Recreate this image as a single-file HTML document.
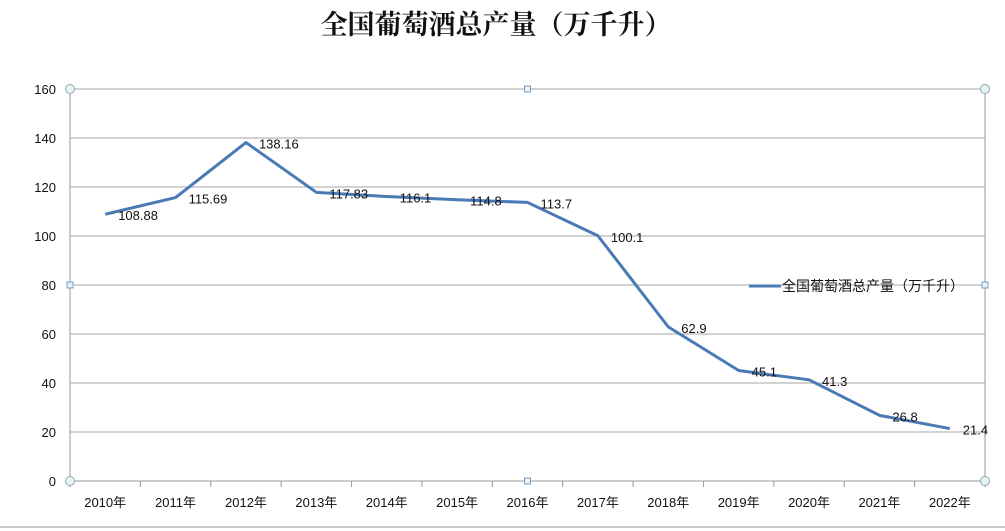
<!DOCTYPE html>
<html><head><meta charset="utf-8"><style>
body{margin:0;background:#fff;}
svg{display:block;font-family:"Liberation Sans","Noto Sans CJK SC",sans-serif;}
</style></head><body>
<svg id="chart" width="1005" height="531" viewBox="0 0 1005 531">
<text x="496" y="34" text-anchor="middle" font-family="'Liberation Serif','Noto Serif CJK SC',serif" font-size="27" font-weight="bold" fill="#111">全国葡萄酒总产量（万千升）</text>
<g id="grid"></g>
<g id="axes"></g>
<g id="series"></g>
<g>
<line x1="749" y1="286" x2="781" y2="286" stroke="#4a7ab5" stroke-width="3"/>
<text x="782" y="291" font-size="14" fill="#111">全国葡萄酒总产量（万千升）</text>
</g>
<line x1="0" y1="527" x2="1005" y2="527" stroke="#ccc" stroke-width="2"/>
</svg>
<script>
const categories=["2010年","2011年","2012年","2013年","2014年","2015年","2016年","2017年","2018年","2019年","2020年","2021年","2022年"];
const values=[108.88,115.69,138.16,117.83,116.1,114.8,113.7,100.1,62.9,45.1,41.3,26.8,21.4];
const valueLabels=["108.88","115.69","138.16","117.83","116.1","114.8","113.7","100.1","62.9","45.1","41.3","26.8","21.4"];
const yTicks=[0,20,40,60,80,100,120,140,160];
const L=70,R=985,T=89,B=481,yMax=160;
const bw=(R-L)/categories.length;
const x=i=>L+bw*(i+0.5);
const y=v=>B-(v/yMax)*(B-T);
const NS="http://www.w3.org/2000/svg";
function mk(tag,attrs,parent,txt){const e=document.createElementNS(NS,tag);for(const k in attrs)e.setAttribute(k,attrs[k]);if(txt!==undefined)e.textContent=txt;parent.appendChild(e);return e;}
const grid=document.getElementById('grid'),axes=document.getElementById('axes'),series=document.getElementById('series');
yTicks.forEach(t=>{
 const g=mk('line',{x1:L,x2:R,y1:y(t),y2:y(t),stroke:t===0?'#999':'#a6a6a6','stroke-width':1},grid);
 
 
 const lb=mk('text',{x:L-14,y:y(t)+5,'text-anchor':'end','font-size':13,fill:'#111'},axes,String(t));
 
 
});
mk('line',{x1:L,x2:L,y1:T,y2:B,stroke:'#999'},axes);
mk('line',{x1:R,x2:R,y1:T,y2:B,stroke:'#999'},axes);
for(let i=0;i<=categories.length;i++){
 mk('line',{x1:L+bw*i,x2:L+bw*i,y1:B,y2:B+6,stroke:'#999'},axes);
}
categories.forEach((c,i)=>{
 const t=mk('text',{x:x(i),y:B+26,'text-anchor':'middle','font-size':13,fill:'#111'},axes,c);
 
 
});
const pts=values.map((v,i)=>x(i)+','+y(v)).join(' ');
const line=mk('polyline',{points:pts,fill:'none',stroke:'#4a7ab5','stroke-width':3,'stroke-linejoin':'round'},series);


values.forEach((v,i)=>{
 const t=mk('text',{x:x(i)+13,y:y(v)+6,'font-size':13,fill:'#111'},series,valueLabels[i]);
 
 
});
// selection handles
[[L,T,'c'],[(L+R)/2,T,'s'],[R,T,'c'],[L,(T+B)/2,'s'],[R,(T+B)/2,'s'],[L,B,'c'],[(L+R)/2,B,'s'],[R,B,'c']].forEach(h=>{
 let e;
 if(h[2]==='c')e=mk('circle',{cx:h[0],cy:h[1],r:4.5,fill:'#e8f2f8',stroke:'#8aa',},axes);
 else e=mk('rect',{x:h[0]-3,y:h[1]-3,width:6,height:6,fill:'#e8f2f8',stroke:'#7a9fc0'},axes);
 
 
});
</script>
</body></html>
